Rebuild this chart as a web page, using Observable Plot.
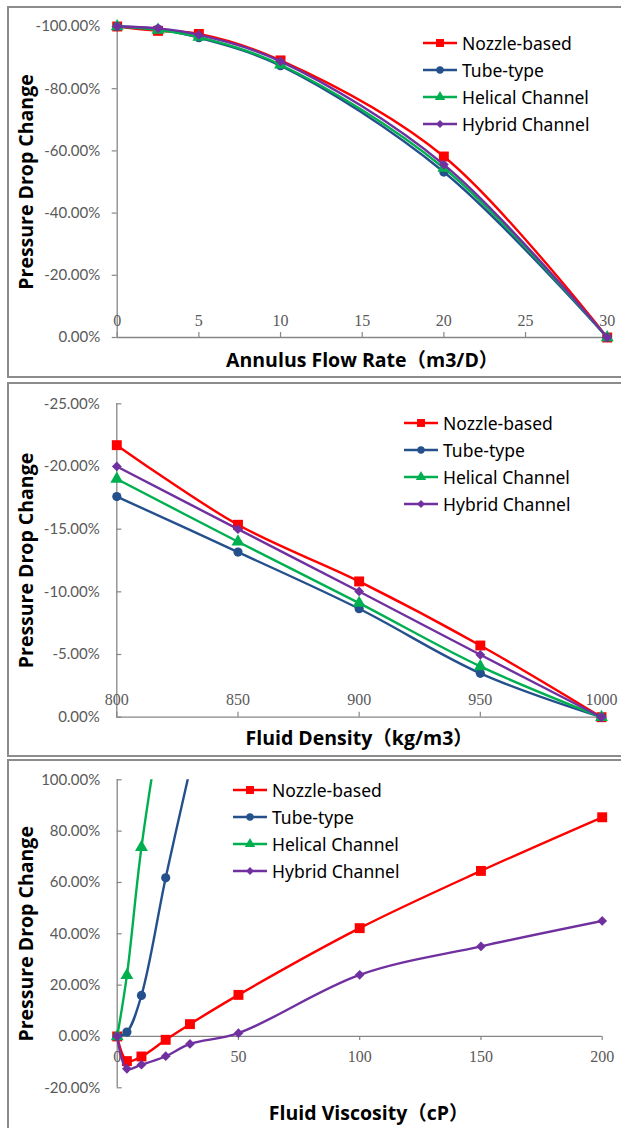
<!DOCTYPE html>
<html><head><meta charset="utf-8">
<script src="https://cdn.jsdelivr.net/npm/d3@7"></script>
<script src="https://cdn.jsdelivr.net/npm/@observablehq/plot@0.6"></script>
<style>
body{margin:0;background:#fff;}
#root{position:relative;width:621px;height:1128px;overflow:hidden;background:#fff;}
.box{position:absolute;border:2px solid #8c8c8c;box-sizing:border-box;}
.panel{position:absolute;left:0;}
.legend{position:absolute;font-family:"Noto Sans","Noto Sans CJK SC",sans-serif;font-size:17.5px;color:#000;}
.legend .row{position:absolute;left:0;display:flex;align-items:center;white-space:nowrap;height:20px;}
.legend svg{display:block;margin-right:4px;}
</style></head>
<body><div id="root"></div>
<script>
// ---- series definitions ----
const seriesNames = ["Nozzle-based", "Tube-type", "Helical Channel", "Hybrid Channel"];
const seriesColors = ["#ff0000", "#24508c", "#00b050", "#7030a0"];
const seriesSymbols = ["square", "circle", "triangle", "diamond2"];
const seriesR = [5.6, 4.6, 4.8, 4.4];

// ---- panel 1: Annulus flow rate ----
const flowRate = [0, 2.5, 5, 10, 20, 30];
const flowNozzle  = [-100, -98.6, -97.6, -89.1, -58.2, 0];
const flowTube    = [-100, -99.2, -96.4, -87.4, -53.2, 0];
const flowHelical = [-100, -98.9, -96.6, -87.7, -54.5, 0];
const flowHybrid  = [-100, -99.4, -97.3, -88.8, -55.6, 0];
const flowXTicks = [0, 5, 10, 15, 20, 25, 30];
const flowYTicks = [-100, -80, -60, -40, -20, 0];

// ---- panel 2: Fluid density ----
const density = [800, 850, 900, 950, 1000];
const denNozzle  = [-21.7, -15.35, -10.83, -5.72, 0];
const denTube    = [-17.6, -13.17, -8.65, -3.5, 0];
const denHelical = [-19.0, -14.0, -9.1, -4.05, 0];
const denHybrid  = [-20.0, -15.0, -10.03, -4.98, 0];
const denXTicks = [800, 850, 900, 950, 1000];
const denYTicks = [-25, -20, -15, -10, -5, 0];

// ---- panel 3: Fluid viscosity ----
const viscosity = [0, 4, 10, 20, 30, 50, 100, 150, 200];
const visNozzle = [0, -9.6, -7.8, -1.3, 4.8, 16.2, 42.2, 64.5, 85.4];
const visHybrid = [0, -12.6, -11.0, -7.7, -2.9, 1.3, 24.0, 35.1, 45.0];
const visTubeX = [0, 4, 10, 20, 30];
const visTube  = [0, 1.7, 16.0, 61.8, 104];
const visHelicalX = [0, 4, 10, 20];
const visHelical  = [0, 23.8, 73.7, 135];
const visXTicks = [0, 50, 100, 150, 200];
const visYTicks = [-20, 0, 20, 40, 60, 80, 100];

const yTitle = "Pressure Drop Change";
const axisColor = "#868686";
const tickTextColor = "#595959";
const titleFont = "'Open Sans', 'Noto Sans CJK SC', sans-serif";
const fmtPct = d => d.toFixed(2) + "%";

const root = document.getElementById("root");

function addBox(left, top, width, height) {
  const b = document.createElement("div");
  b.className = "box";
  Object.assign(b.style, {left: left + "px", top: top + "px", width: width + "px", height: height + "px"});
  root.appendChild(b);
}

function makePanel(cfg) {
  const x0 = cfg.xDomain[0], x1 = cfg.xDomain[1];
  const yLo = d3.min(cfg.yDomain), yHi = d3.max(cfg.yDomain);
  const marks = [];
  // axis lines
  marks.push(Plot.ruleX([x0], {y1: () => yLo, y2: () => yHi, stroke: axisColor, strokeWidth: 1.3}));
  marks.push(Plot.ruleY([0], {x1: () => x0, x2: () => x1, stroke: axisColor, strokeWidth: 1.3}));
  // y ticks
  marks.push(Plot.ruleY(cfg.yTicks, {x1: () => x0, x2: () => x0,
    insetLeft: cfg.yTicksInside ? 0 : -5, insetRight: cfg.yTicksInside ? -5 : 0,
    stroke: axisColor, strokeWidth: 1.2}));
  marks.push(Plot.text(cfg.yTicks, {x: () => x0, y: d => d, text: fmtPct, textAnchor: "end", dx: -17,
    fill: tickTextColor, fontSize: 15, fontFamily: "Lato, 'Open Sans', sans-serif"}));
  // x ticks
  marks.push(Plot.ruleX(cfg.xTicks, {x: d => d, y1: () => 0, y2: () => 0,
    insetTop: cfg.xLabelsAbove ? -5 : 0, insetBottom: cfg.xLabelsAbove ? 0 : -4,
    stroke: axisColor, strokeWidth: 1.2}));
  marks.push(Plot.text(cfg.xTicks, {x: d => d, y: () => 0, text: d => String(d),
    dy: cfg.xLabelsAbove ? -17 : 20, fill: tickTextColor, fontSize: 16,
    fontFamily: "'Liberation Serif', serif"}));
  // series
  cfg.series.forEach((s, si) => {
    const data = s.y.map((v, i) => ({x: s.x[i], y: v}));
    marks.push(Plot.line(data, {x: "x", y: "y", stroke: seriesColors[si], strokeWidth: 2.4,
      curve: "catmull-rom", clip: cfg.clip ? "frame" : false}));
    marks.push(Plot.dot(data.filter(d => d.y <= yHi), {x: "x", y: "y", symbol: () => seriesSymbols[si],
      r: seriesR[si], fill: seriesColors[si], stroke: "none"}));
  });
  // titles
  marks.push(Plot.text([cfg.xTitle], {frameAnchor: "bottom", dy: cfg.xTitleDy, dx: cfg.xTitleDx || 0,
    textAnchor: "middle", lineAnchor: "middle", fontSize: 19.5, fontWeight: "bold", fill: "#000",
    fontFamily: titleFont}));
  marks.push(Plot.text([yTitle], {frameAnchor: "left", dx: -90, rotate: -90,
    textAnchor: "middle", lineAnchor: "middle", fontSize: 19.5, fontWeight: "bold", fill: "#000",
    fontFamily: titleFont}));

  const svg = Plot.plot({
    width: 621, height: cfg.height,
    marginLeft: cfg.margin[3], marginRight: cfg.margin[1], marginTop: cfg.margin[0], marginBottom: cfg.margin[2],
    x: {domain: cfg.xDomain, axis: null},
    y: {domain: cfg.yDomain, axis: null},
    style: {background: "transparent", overflow: "visible"},
    marks
  });
  svg.classList.add("panel");
  svg.style.top = cfg.top + "px";
  root.appendChild(svg);

  // legend
  const lg = document.createElement("div");
  lg.className = "legend";
  lg.style.left = cfg.legend[0] + "px";
  lg.style.top = cfg.legend[1] + "px";
  seriesNames.forEach((name, si) => {
    const row = document.createElement("div");
    row.className = "row";
    row.style.top = (si * 26.9 - 10) + "px";
    const sw = d3.create("svg").attr("width", 36).attr("height", 16);
    sw.append("line").attr("x1", 1).attr("x2", 35).attr("y1", 8).attr("y2", 8)
      .attr("stroke", seriesColors[si]).attr("stroke-width", 2.4);
    const symType = {square: d3.symbolSquare, circle: d3.symbolCircle, triangle: d3.symbolTriangle, diamond2: d3.symbolDiamond2}[seriesSymbols[si]];
    const r = seriesR[si] * 0.8;
    sw.append("path").attr("transform", "translate(18,8)")
      .attr("d", d3.symbol(symType, Math.PI * r * r)()).attr("fill", seriesColors[si]);
    row.appendChild(sw.node());
    const t = document.createElement("span");
    t.textContent = name;
    row.appendChild(t);
    lg.appendChild(row);
  });
  root.appendChild(lg);
}

addBox(7, 6, 620, 372);
addBox(7, 382, 620, 375);
addBox(7, 759, 620, 400);

makePanel({
  top: 0, height: 380, margin: [26, 14.3, 43, 116.7],
  xDomain: [0, 30], yDomain: [0, -100], xTicks: flowXTicks, yTicks: flowYTicks,
  series: [
    {x: flowRate, y: flowNozzle}, {x: flowRate, y: flowTube},
    {x: flowRate, y: flowHelical}, {x: flowRate, y: flowHybrid}
  ],
  xTitle: "Annulus Flow Rate（m3/D）", xTitleDy: 23, yTicksInside: false, xLabelsAbove: true,
  legend: [422, 43.3]
});

makePanel({
  top: 380, height: 378, margin: [23.3, 20, 41.3, 116.3],
  xDomain: [800, 1000], yDomain: [0, -25], xTicks: denXTicks, yTicks: denYTicks,
  series: [
    {x: density, y: denNozzle}, {x: density, y: denTube},
    {x: density, y: denHelical}, {x: density, y: denHybrid}
  ],
  xTitle: "Fluid Density（kg/m3）", xTitleDy: 21.3, yTicksInside: true, xLabelsAbove: true,
  legend: [403, 423.3]
});

makePanel({
  top: 758, height: 370, margin: [21.3, 19.3, 40.7, 116.7],
  xDomain: [0, 200], yDomain: [-20, 100], xTicks: visXTicks, yTicks: visYTicks,
  series: [
    {x: viscosity, y: visNozzle}, {x: visTubeX, y: visTube},
    {x: visHelicalX, y: visHelical}, {x: viscosity, y: visHybrid}
  ],
  xTitle: "Fluid Viscosity（cP）", xTitleDy: 25.7, xTitleDx: 9, yTicksInside: true, xLabelsAbove: false,
  clip: true,
  legend: [232, 790]
});
</script>
</body></html>
